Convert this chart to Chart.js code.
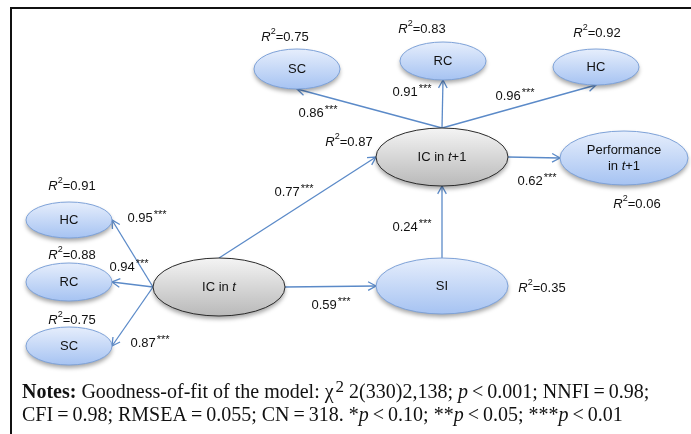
<!DOCTYPE html>
<html>
<head>
<meta charset="utf-8">
<script src="https://cdn.jsdelivr.net/npm/chart.js@4.4.1/dist/chart.umd.min.js"></script>
<style>
  html, body { margin: 0; padding: 0; background: #fff; }
  #wrap { width: 691px; height: 434px; }
</style>
</head>
<body>
<div id="wrap"><canvas id="pathChart" width="691" height="434"></canvas></div>
<script>
// ---- data ----
const nodeLabels = ['SC', 'RC', 'HC', 'IC in t+1', 'Performance in t+1', 'HC', 'RC', 'SC', 'IC in t', 'SI'];
const nodeX = [297, 443, 596, 442, 624, 69, 69, 69, 219, 442];
const nodeY = [69, 61, 67, 157, 158, 220, 282, 346, 287, 286];
const nodeR2 = [0.75, 0.83, 0.92, 0.87, 0.06, 0.91, 0.88, 0.75, null, 0.35];

const pathFrom = [3, 3, 3, 8, 3, 8, 8, 8, 8, 9];
const pathTo = [0, 1, 2, 3, 4, 5, 6, 7, 9, 3];
const pathCoef = [0.86, 0.91, 0.96, 0.77, 0.62, 0.95, 0.94, 0.87, 0.59, 0.24];
const pathStars = ['***', '***', '***', '***', '***', '***', '***', '***', '***', '***'];

// ---- layout (not data) ----
const nodeKind = ['obs', 'obs', 'obs', 'core', 'obs', 'obs', 'obs', 'obs', 'core', 'obs'];
const nodeSize = [[43, 20], [43, 19], [43, 18], [66, 29], [64, 27], [43, 18], [43, 19], [43, 19], [66, 29], [66, 28]];
const r2Offset = [[-12, -32], [-21, -32], [1, -34], [-93, -15], [13, 46], [3, -34], [3, -27], [3, -26], null, [100, 2]];
const pathPorts = [
  ['top', 'bottom'], ['top', 'bottom'], ['top', 'bottom'], ['top', 'left'], ['right', 'left'],
  ['left', 'right'], ['left', 'right'], ['left', 'right'], ['right', 'left'], ['top', 'bottom']
];
const coefAt = [[318, 113], [412, 92], [515, 96], [294, 192], [537, 181], [147, 218], [129, 267], [150, 343], [331, 305], [412, 227]];

const SANS = '"Liberation Sans", Arial, sans-serif';
const SERIF = '"Liberation Serif", "Times New Roman", serif';
const lineColor = '#5b8ac8';
const TS = '\u2009'; // thin space round = and <

// draw a line of mixed runs: {t, f: font-style prefix, size, dy, family, gap}
function drawRuns(ctx, runs, x, y, align) {
  let total = 0;
  runs.forEach(r => {
    ctx.font = `${r.f || ''} ${r.size}px ${r.family || SANS}`;
    r.w = ctx.measureText(r.t).width + (r.gap || 0);
    total += r.w;
  });
  let cx = align === 'center' ? x - total / 2 : x;
  ctx.textBaseline = 'middle';
  ctx.textAlign = 'left';
  runs.forEach(r => {
    ctx.font = `${r.f || ''} ${r.size}px ${r.family || SANS}`;
    ctx.fillText(r.t, cx, y + (r.dy || 0));
    cx += r.w;
  });
}

function labelRuns(label, size) {
  // italic t inside "IC in t" / "in t+1"
  const m = label.match(/^(.*in )t(.*)$/);
  if (!m) return [{ t: label, size }];
  return [{ t: m[1], size }, { t: 't', f: 'italic', size }, { t: m[2], size }];
}

function r2Runs(v) {
  return [
    { t: 'R', f: 'italic', size: 13 },
    { t: '2', size: 9, dy: -5 },
    { t: '=' + v.toFixed(2), size: 13 }
  ];
}

const diagramPlugin = {
  id: 'pathDiagram',
  afterDatasetsDraw(chart) {
    const ctx = chart.ctx;
    const xs = chart.scales.x, ys = chart.scales.y;
    const pts = chart.getDatasetMeta(0).data;

    const port = (i, side) => {
      const p = pts[i];
      const rx = nodeSize[i][0], ry = nodeSize[i][1];
      if (side === 'top') return [p.x, p.y - ry];
      if (side === 'bottom') return [p.x, p.y + ry];
      if (side === 'left') return [p.x - rx, p.y];
      return [p.x + rx, p.y];
    };

    ctx.save();

    // frame
    ctx.strokeStyle = '#111';
    ctx.lineWidth = 2;
    ctx.beginPath();
    ctx.moveTo(xs.getPixelForValue(11), ys.getPixelForValue(434));
    ctx.lineTo(xs.getPixelForValue(11), ys.getPixelForValue(8));
    ctx.lineTo(xs.getPixelForValue(691), ys.getPixelForValue(8));
    ctx.stroke();

    // arrows
    ctx.strokeStyle = lineColor;
    ctx.lineWidth = 1.3;
    pathFrom.forEach((f, k) => {
      const a = port(f, pathPorts[k][0]);
      const b = port(pathTo[k], pathPorts[k][1]);
      ctx.beginPath();
      ctx.moveTo(a[0], a[1]);
      ctx.lineTo(b[0], b[1]);
      ctx.stroke();
      const ang = Math.atan2(b[1] - a[1], b[0] - a[0]);
      const len = 9, spread = 0.5;
      ctx.beginPath();
      ctx.moveTo(b[0] - len * Math.cos(ang - spread), b[1] - len * Math.sin(ang - spread));
      ctx.lineTo(b[0], b[1]);
      ctx.lineTo(b[0] - len * Math.cos(ang + spread), b[1] - len * Math.sin(ang + spread));
      ctx.stroke();
    });

    // ellipses
    pts.forEach((p, i) => {
      const rx = nodeSize[i][0], ry = nodeSize[i][1];
      const core = nodeKind[i] === 'core';
      const g = ctx.createLinearGradient(0, p.y - ry, 0, p.y + ry);
      if (core) {
        g.addColorStop(0, '#f4f4f4');
        g.addColorStop(1, '#b9b9b9');
      } else {
        g.addColorStop(0, '#e6eefc');
        g.addColorStop(1, '#a6c3f2');
      }
      ctx.save();
      ctx.shadowColor = 'rgba(0,0,0,0.35)';
      ctx.shadowBlur = 4;
      ctx.shadowOffsetY = 3;
      ctx.beginPath();
      ctx.ellipse(p.x, p.y, rx, ry, 0, 0, Math.PI * 2);
      ctx.fillStyle = g;
      ctx.fill();
      ctx.restore();
      ctx.beginPath();
      ctx.ellipse(p.x, p.y, rx, ry, 0, 0, Math.PI * 2);
      ctx.strokeStyle = core ? '#2b2b2b' : '#7ea2d8';
      ctx.lineWidth = 1;
      ctx.stroke();

      ctx.fillStyle = '#111';
      const lbl = nodeLabels[i];
      if (lbl.startsWith('Performance')) {
        drawRuns(ctx, [{ t: 'Performance', size: 13 }], p.x, p.y - 8, 'center');
        drawRuns(ctx, labelRuns('in t+1', 13), p.x, p.y + 8, 'center');
      } else {
        drawRuns(ctx, labelRuns(lbl, 13), p.x, p.y, 'center');
      }

      if (nodeR2[i] !== null) {
        const o = r2Offset[i];
        drawRuns(ctx, r2Runs(nodeR2[i]), p.x + o[0], p.y + o[1], 'center');
      }
    });

    // path coefficients
    ctx.fillStyle = '#111';
    pathCoef.forEach((c, k) => {
      drawRuns(ctx, [
        { t: c.toFixed(2), size: 13, gap: 1 },
        { t: pathStars[k], size: 11, dy: -3 }
      ], xs.getPixelForValue(coefAt[k][0]), ys.getPixelForValue(coefAt[k][1]), 'center');
    });

    // notes
    const nx = xs.getPixelForValue(22);
    const s = 20;
    drawRuns(ctx, [
      { t: 'Notes:', f: 'bold', size: s, family: SERIF, gap: 5 },
      { t: 'Goodness-of-fit of the model: ', size: s, family: SERIF },
      { t: 'χ', size: s, family: SERIF, gap: 2 },
      { t: '2', size: s - 3, family: SERIF, dy: -5 },
      { t: ' 2(330)2,138; ', size: s, family: SERIF },
      { t: 'p', f: 'italic', size: s, family: SERIF },
      { t: TS + '<' + TS + '0.001; NNFI' + TS + '=' + TS + '0.98;', size: s, family: SERIF }
    ], nx, ys.getPixelForValue(393), 'left');
    drawRuns(ctx, [
      { t: 'CFI' + TS + '=' + TS + '0.98; RMSEA' + TS + '=' + TS + '0.055; CN' + TS + '=' + TS + '318. *', size: s, family: SERIF },
      { t: 'p', f: 'italic', size: s, family: SERIF },
      { t: TS + '<' + TS + '0.10; **', size: s, family: SERIF },
      { t: 'p', f: 'italic', size: s, family: SERIF },
      { t: TS + '<' + TS + '0.05; ***', size: s, family: SERIF },
      { t: 'p', f: 'italic', size: s, family: SERIF },
      { t: TS + '<' + TS + '0.01', size: s, family: SERIF }
    ], nx, ys.getPixelForValue(416), 'left');

    ctx.restore();
  }
};

const pathChart = new Chart(document.getElementById('pathChart'), {
  type: 'scatter',
  data: {
    datasets: [{
      data: nodeX.map((x, i) => ({ x, y: nodeY[i] })),
      pointRadius: 0,
      pointHoverRadius: 0
    }]
  },
  options: {
    responsive: false,
    animation: false,
    events: [],
    layout: { padding: 0 },
    plugins: { legend: { display: false }, tooltip: { enabled: false } },
    scales: {
      x: { type: 'linear', min: 0, max: 691, display: false },
      y: { type: 'linear', min: 0, max: 434, reverse: true, display: false }
    }
  },
  plugins: [diagramPlugin]
});
</script>
</body>
</html>
